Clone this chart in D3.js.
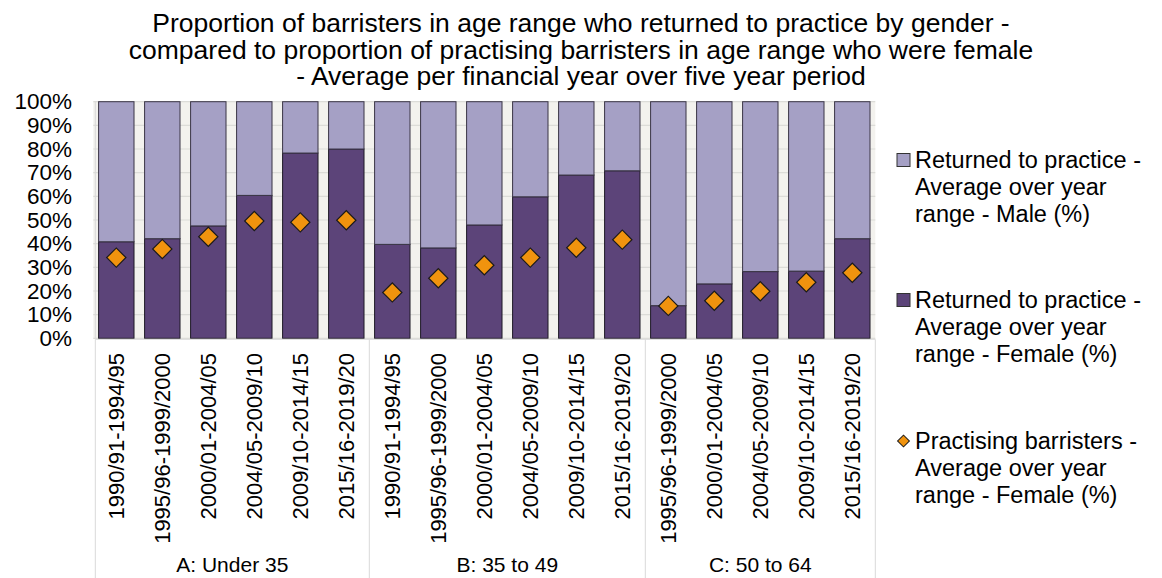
<!DOCTYPE html>
<html><head><meta charset="utf-8">
<script src="https://cdn.jsdelivr.net/npm/d3@7"></script>
<style>
html,body{margin:0;padding:0;background:#fff;}
svg{display:block;font-family:"Liberation Sans",Arial,sans-serif;}
</style></head>
<body>
<svg id="chart" width="1162" height="578"></svg>
<script>
const groups = ["A: Under 35", "B: 35 to 49", "C: 50 to 64"];
const groupPeriods = [
  ["1990/91-1994/95","1995/96-1999/2000","2000/01-2004/05","2004/05-2009/10","2009/10-2014/15","2015/16-2019/20"],
  ["1990/91-1994/95","1995/96-1999/2000","2000/01-2004/05","2004/05-2009/10","2009/10-2014/15","2015/16-2019/20"],
  ["1995/96-1999/2000","2000/01-2004/05","2004/05-2009/10","2009/10-2014/15","2015/16-2019/20"]
];
const returnedFemale = [
  [40.8, 42.1, 47.5, 60.4, 78.3, 80.0],
  [39.7, 38.2, 47.9, 59.8, 69.0, 70.8],
  [13.8, 23.0, 28.2, 28.4, 42.1]
];
const returnedMale = [
  [59.2, 57.9, 52.5, 39.6, 21.7, 20.0],
  [60.3, 61.8, 52.1, 40.2, 31.0, 29.2],
  [86.2, 77.0, 71.8, 71.6, 57.9]
];
const practisingFemale = [
  [34.1, 37.7, 42.9, 49.6, 49.0, 49.9],
  [19.4, 25.4, 30.9, 34.1, 38.3, 41.7],
  [13.7, 15.9, 19.9, 23.7, 27.7]
];
const yTicks = [0,10,20,30,40,50,60,70,80,90,100];
const titleLines = [
  "Proportion of barristers in age range who returned to practice by gender -",
  "compared to proportion of practising barristers in age range who were female",
  "- Average per financial year over five year period"
];
const legendLabels = [
  ["Returned to practice -","Average over year","range - Male (%)"],
  ["Returned to practice -","Average over year","range - Female (%)"],
  ["Practising barristers -","Average over year","range - Female (%)"]
];

const colMale = "#a5a0c5", colFemale = "#5c4479", colDiamond = "#f0930e";

const rows = [];
groups.forEach((g, gi) => groupPeriods[gi].forEach((p, pi) => rows.push({
  key: g + "|" + p, group: g, gi, period: p,
  female: returnedFemale[gi][pi], male: returnedMale[gi][pi], practising: practisingFemale[gi][pi]
})));

const svg = d3.select("#chart");
const L = 93.3, R = 875.3, T = 101.7, B = 338.3;
const x = d3.scaleBand().domain(rows.map(d => d.key)).range([L, R]).paddingInner(0.23).paddingOuter(0.115);
const y = d3.scaleLinear().domain([0, 100]).range([B, T]);

svg.append("rect").attr("x", L).attr("y", T).attr("width", R - L).attr("height", B - T).attr("fill", "#f3f2ee");
svg.append("g").selectAll("line").data(yTicks).join("line")
  .attr("x1", L).attr("x2", R).attr("y1", d => y(d)).attr("y2", d => y(d))
  .attr("stroke", "#dcdcd8").attr("stroke-width", 1.2);

const yAxis = d3.axisLeft(y).tickValues(yTicks).tickFormat(d => d + "%").tickSize(0).tickPadding(0);
const yg = svg.append("g").attr("transform", `translate(72,0)`).call(yAxis);
yg.select(".domain").remove();
yg.selectAll("text").attr("font-size", 22.5).attr("fill", "#000").attr("font-family", "Liberation Sans, Arial, sans-serif");

svg.append("line").attr("x1", L + 2).attr("x2", L + 2).attr("y1", T).attr("y2", B).attr("stroke", "#d9d9d9").attr("stroke-width", 1);

const bars = svg.append("g");
bars.selectAll("rect.f").data(rows).join("rect").attr("class", "f")
  .attr("x", d => x(d.key)).attr("width", x.bandwidth())
  .attr("y", d => y(d.female)).attr("height", d => y(0) - y(d.female))
  .attr("fill", colFemale).attr("stroke", "#1e1a26").attr("stroke-width", 1);
bars.selectAll("rect.m").data(rows).join("rect").attr("class", "m")
  .attr("x", d => x(d.key)).attr("width", x.bandwidth())
  .attr("y", d => y(d.female + d.male)).attr("height", d => y(d.female) - y(d.female + d.male))
  .attr("fill", colMale).attr("stroke", "#3a3545").attr("stroke-width", 1);

const diamond = d3.symbol().type(d3.symbolSquare).size(185);
svg.append("g").selectAll("path").data(rows).join("path")
  .attr("d", diamond)
  .attr("transform", d => `translate(${x(d.key) + x.bandwidth() / 2},${y(d.practising)}) rotate(45)`)
  .attr("fill", colDiamond).attr("stroke", "#1a1a1a").attr("stroke-width", 1.2);

const boxG = svg.append("g");
const lineCol = "#d9d9d9";
boxG.append("line").attr("x1", L + 2).attr("x2", R).attr("y1", B + 1).attr("y2", B + 1).attr("stroke", lineCol);
const sepIdx = [0];
let acc = 0;
groupPeriods.forEach(p => { acc += p.length; sepIdx.push(acc); });
const sepX = i => (i === 0 ? L + 2 : i === rows.length ? R : x(rows[i].key) - (x.step() - x.bandwidth()) / 2);
boxG.selectAll("line.sep").data(sepIdx).join("line").attr("class", "sep")
  .attr("x1", i => sepX(i)).attr("x2", i => sepX(i)).attr("y1", B + 1).attr("y2", 578)
  .attr("stroke", lineCol);

svg.append("g").selectAll("text").data(rows).join("text")
  .attr("transform", d => `translate(${x(d.key) + x.bandwidth() / 2},353) rotate(-90)`)
  .attr("text-anchor", "end").attr("dy", "0.36em")
  .attr("font-size", 22).attr("fill", "#000")
  .text(d => d.period);

svg.append("g").selectAll("text").data(groups).join("text")
  .attr("x", (g, gi) => (sepX(sepIdx[gi]) + sepX(sepIdx[gi + 1])) / 2)
  .attr("y", 572).attr("text-anchor", "middle")
  .attr("font-size", 21).attr("fill", "#000")
  .text(g => g);

svg.append("g").selectAll("text").data(titleLines).join("text")
  .attr("x", 581).attr("y", (d, i) => 32 + i * 26.7).attr("text-anchor", "middle")
  .attr("font-size", 26.5).attr("fill", "#000").text(d => d);

const legY = [160, 300, 441];
const lg = svg.append("g");
legendLabels.forEach((lines, i) => {
  const cy = legY[i];
  if (i < 2) {
    lg.append("rect").attr("x", 897).attr("y", cy - 6.5).attr("width", 13).attr("height", 13)
      .attr("fill", i === 0 ? colMale : colFemale).attr("stroke", "#333").attr("stroke-width", 1);
  } else {
    lg.append("path").attr("d", d3.symbol().type(d3.symbolSquare).size(70))
      .attr("transform", `translate(903.5,${cy}) rotate(45)`)
      .attr("fill", colDiamond).attr("stroke", "#1a1a1a").attr("stroke-width", 1);
  }
  lg.selectAll(null).data(lines).join("text")
    .attr("x", 915).attr("y", (d, j) => cy + 8 + j * 27)
    .attr("font-size", 23.5).attr("fill", "#000").text(d => d);
});
</script>
</body></html>
